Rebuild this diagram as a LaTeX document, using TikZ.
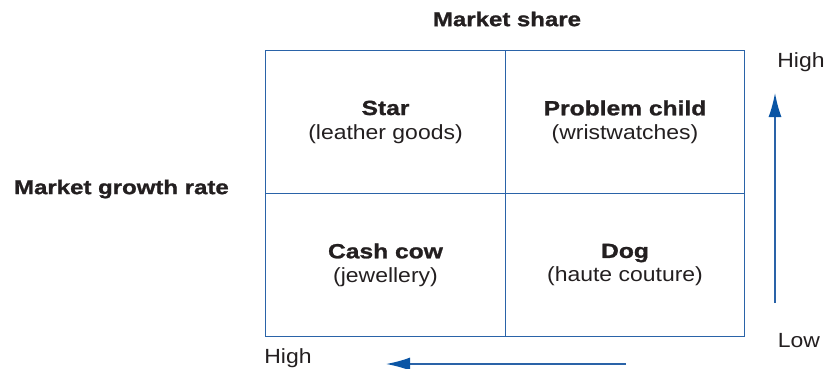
\documentclass[tikz,border=0pt]{standalone}
\usepackage{fontspec}
\setmainfont{Liberation Sans}[FakeStretch=1.12, BoldFeatures={FakeStretch=1.2, FakeBold=1.2}]
\usetikzlibrary{arrows.meta,positioning}

\definecolor{gridblue}{HTML}{2A63A8}
\definecolor{tipblue}{HTML}{0A55A5}
\definecolor{inkgray}{HTML}{231F20}

\tikzset{
    quad/.style={draw=gridblue, line width=1.2pt, minimum width=239.5pt, minimum height=143pt,
        align=center, text=inkgray, font=\fontsize{20.5}{24}\selectfont},
    lbl/.style={text=inkgray, font=\fontsize{20.5}{24}\selectfont, inner sep=0pt},
    head/.style={text=inkgray, font=\fontsize{20}{24}\selectfont\bfseries, inner sep=0pt},
    axis/.style={draw=gridblue, line width=1.4pt, -{Latex[length=24pt,width=13pt,color=tipblue]}},
}

\begin{document}
\begin{tikzpicture}[x=1pt, y=-1pt]
\useasboundingbox (0,0) rectangle (824,369);

\node[quad] (star)  at (385.5,122) {\textbf{Star}\\(leather goods)};
\node[quad] (child) at (625,122)   {\textbf{Problem child}\\(wristwatches)};
\node[quad] (cow)   at (385.5,265) {\textbf{Cash cow}\\(jewellery)};
\node[quad] (dog)   at (625,265)   {\textbf{Dog}\\(haute couture)};

\node[head] (share)  at (507,19) {Market share};
\node[head, anchor=east] (growth) at (229,189) {Market growth rate};

% growth axis
\coordinate (vlow)  at (775,303);
\coordinate (vhigh) at (775,93);
\draw[axis] (vlow) -- (vhigh);
\node[lbl] (vhighlbl) at (801,62)  {High};
\node[lbl] (vlowlbl)  at (799,341) {Low};

% share axis
\coordinate (hlow)  at (626,364);
\coordinate (hhigh) at (386,364);
\draw[axis] (hlow) -- (hhigh);
\node[lbl] (hhighlbl) at (288,358) {High};

\end{tikzpicture}
\end{document}
